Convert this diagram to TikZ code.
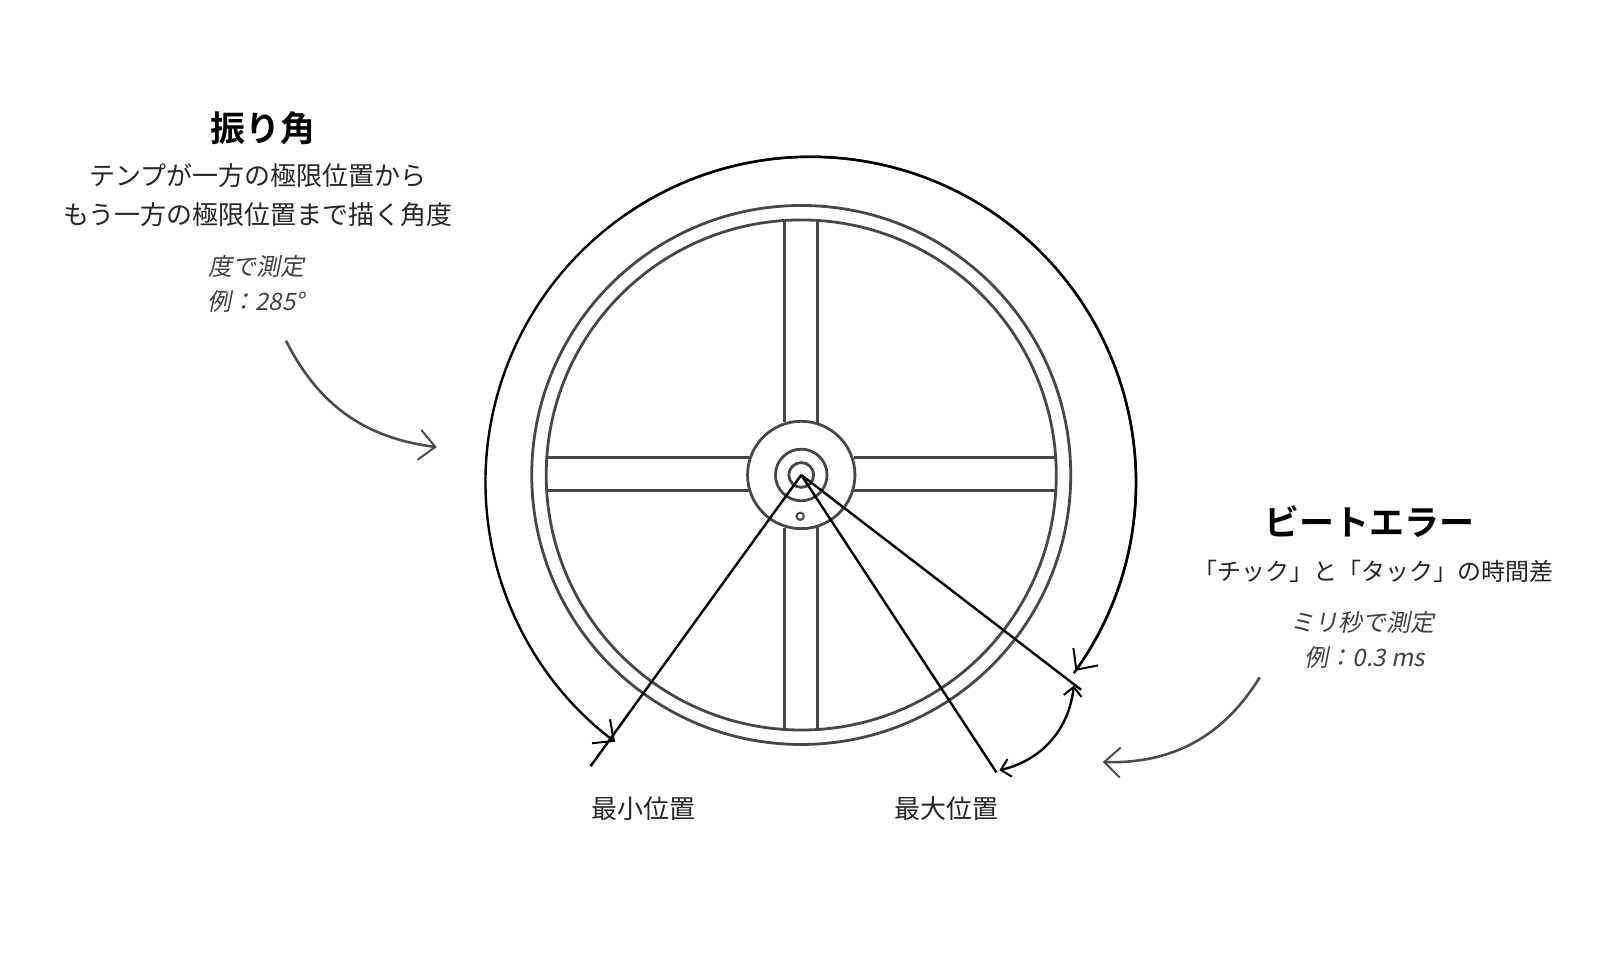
\documentclass[tikz,border=0pt]{standalone}
\usepackage{fontspec}
\setmainfont{Noto Sans CJK JP}
\newfontfamily\jpb{Noto Sans CJK JP Bold}
\newfontfamily\jpi[FakeSlant=0.2]{Noto Sans CJK JP}
\usetikzlibrary{arrows.meta}
\begin{document}
\begin{tikzpicture}[x=1.0325pt,y=-1.0325pt,
  wheel/.style={draw=black!72,line width=2.8pt},
  ln/.style={draw=black,line width=2.4pt},
  vtip/.style={-{Straight Barb[length=16pt,width=30pt,line width=2pt]}},
  txt/.style={font=\fontsize{26}{30}\selectfont,text=black!85,align=center},
  itx/.style={font=\jpi\fontsize{24}{28}\selectfont,text=black!75,align=center},
  ttl/.style={font=\jpb\fontsize{35}{38}\selectfont}]
\useasboundingbox (0,0) rectangle (1568,940);
\fill[white] (0,0) rectangle (1568,940);
\coordinate (c) at (776,460);
% spokes
\draw[wheel] (760,213) -- (760,409) (792,213) -- (792,410);
\draw[wheel] (760,511) -- (760,707) (792,510) -- (792,707);
\draw[wheel] (529,443) -- (725,443) (529,475) -- (725,475);
\draw[wheel] (827,443) -- (1023,443) (827,475) -- (1023,475);
\draw[wheel] (c) circle[radius=261] (c) circle[radius=247];
\draw[wheel,fill=white] (c) circle[radius=52];
\draw[wheel] (c) circle[radius=25] (c) circle[radius=12];
\draw[wheel,line width=2pt] (775,500) circle[radius=3.5];
% position lines
\coordinate (pmin) at (572,742);
\coordinate (pmax) at (965,748);
\coordinate (pbe) at (1047,668);
\draw[ln] (c) -- (pmin) (c) -- (pmax) (c) -- (pbe);
% big swing arc
\draw[ln,vtip] (1040,652) arc[start angle=-36,end angle=125,x radius=315,y radius=-315]
  coordinate (top) arc[start angle=125,end angle=233,x radius=315,y radius=-315];
\draw[ln,vtip] (top) arc[start angle=125,end angle=-35.5,x radius=315,y radius=-315];
% beat error double arrow
\draw[ln,{Straight Barb[length=9pt,width=18pt,line width=2pt]}-{Straight Barb[length=9pt,width=18pt,line width=2pt]}] (968,746) to[bend right=35] (1040,664);
% pointer arrows
\draw[draw=black!70,line width=2.6pt,vtip] (277,330) to[bend right=28] (423,433);
\draw[draw=black!70,line width=2.6pt,vtip] (1220,656) to[bend left=30] (1068,738);
% texts
\node[ttl] (t1) at (255,124) {振り角};
\node[txt] (d1) at (250,170) {テンプが一方の極限位置から};
\node[txt] (d2) at (250,208) {もう一方の極限位置まで描く角度};
\node[itx] (m1) at (248,258) {度で測定};
\node[itx] (m2) at (248,292) {例：285°};
\node[ttl] (t2) at (1326,505) {ビートエラー};
\node[txt,font=\fontsize{24}{28}\selectfont] (d3) at (1330,553) {「チック」と「タック」の時間差};
\node[itx] (m3) at (1320,603) {ミリ秒で測定};
\node[itx] (m4) at (1322,637) {例：0.3 ms};
\node[txt] (l1) at (623,783) {最小位置};
\node[txt] (l2) at (917,783) {最大位置};
\end{tikzpicture}
\end{document}
